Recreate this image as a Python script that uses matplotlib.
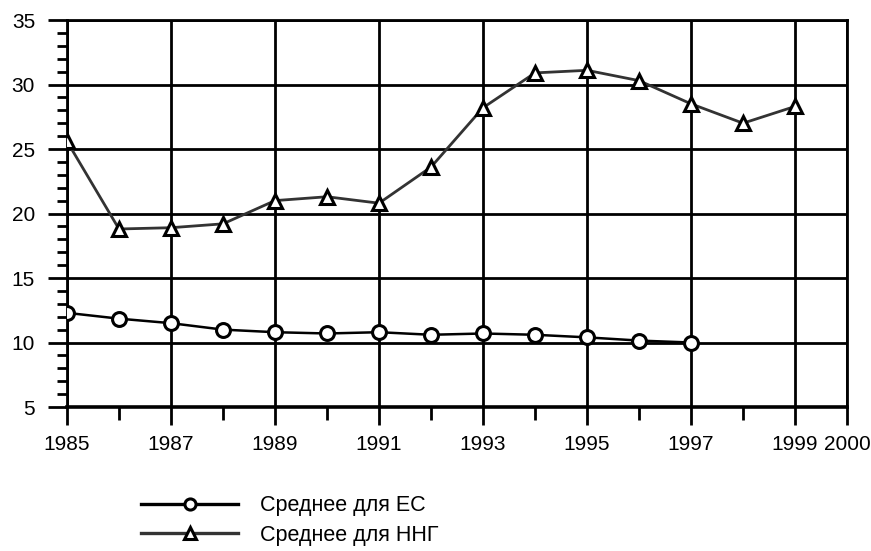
import matplotlib.pyplot as plt
from matplotlib.lines import Line2D

plt.rcParams["font.family"] = ["Liberation Sans", "DejaVu Sans"]

years_ec = [1985, 1986, 1987, 1988, 1989, 1990, 1991, 1992, 1993, 1994, 1995, 1996, 1997]
ec = [12.3, 11.85, 11.5, 11.0, 10.8, 10.7, 10.8, 10.6, 10.7, 10.6, 10.4, 10.15, 10.0]

years_nng = [1985, 1986, 1987, 1988, 1989, 1990, 1991, 1992, 1993, 1994, 1995, 1996, 1997, 1998, 1999]
nng = [25.6, 18.8, 18.9, 19.2, 21.0, 21.3, 20.8, 23.6, 28.2, 30.9, 31.1, 30.3, 28.5, 27.0, 28.3]

x_labels = ["1985", "1987", "1989", "1991", "1993", "1995", "1997", "1999", "2000"]
labels = ["Среднее для ЕС", "Среднее для ННГ"]

fig = plt.figure(figsize=(8.71, 5.51), dpi=100)
ax = fig.add_axes([0.0769, 0.2613, 0.8956, 0.7024])

ax.plot(years_ec, ec, color="black", lw=1.8, marker="o", ms=10,
        mfc="white", mec="black", mew=2.2, zorder=3)
ax.plot(years_nng, nng, color="#333333", lw=2.0, marker="^", ms=10,
        mfc="white", mec="black", mew=2.2, zorder=3)

ax.set_xlim(1985, 2000)
ax.set_ylim(5, 35)
ax.set_xticks([int(s) for s in x_labels])
ax.set_xticklabels(x_labels, fontsize=15)
ax.set_xticks(range(1985, 2001), minor=True)
ax.set_yticks(range(5, 36, 5))
ax.set_yticks(range(5, 36), minor=True)
ax.tick_params(axis="y", which="major", length=14, width=2, labelsize=15, pad=9)
ax.tick_params(axis="y", which="minor", length=7, width=2)
ax.tick_params(axis="x", which="major", length=13, width=2, pad=7)
ax.tick_params(axis="x", which="minor", length=9, width=2)

ax.grid(True, which="major", color="black", lw=2)
ax.set_axisbelow(True)
for side in ["left", "right", "top"]:
    ax.spines[side].set_linewidth(2)
ax.spines["bottom"].set_linewidth(2.6)

handles = [
    Line2D([], [], color="black", lw=2.4, marker="o", ms=8, mfc="white", mec="black", mew=2.2),
    Line2D([], [], color="#333333", lw=2.4, marker="^", ms=8, mfc="white", mec="black", mew=2.2),
]
fig.legend(handles, labels, loc="upper left", bbox_to_anchor=(0.15, 0.121),
           frameon=False, fontsize=15.5, handlelength=4.5, handletextpad=1.0,
           labelspacing=0.4, borderpad=0)

fig.savefig("out.png", dpi=100)
